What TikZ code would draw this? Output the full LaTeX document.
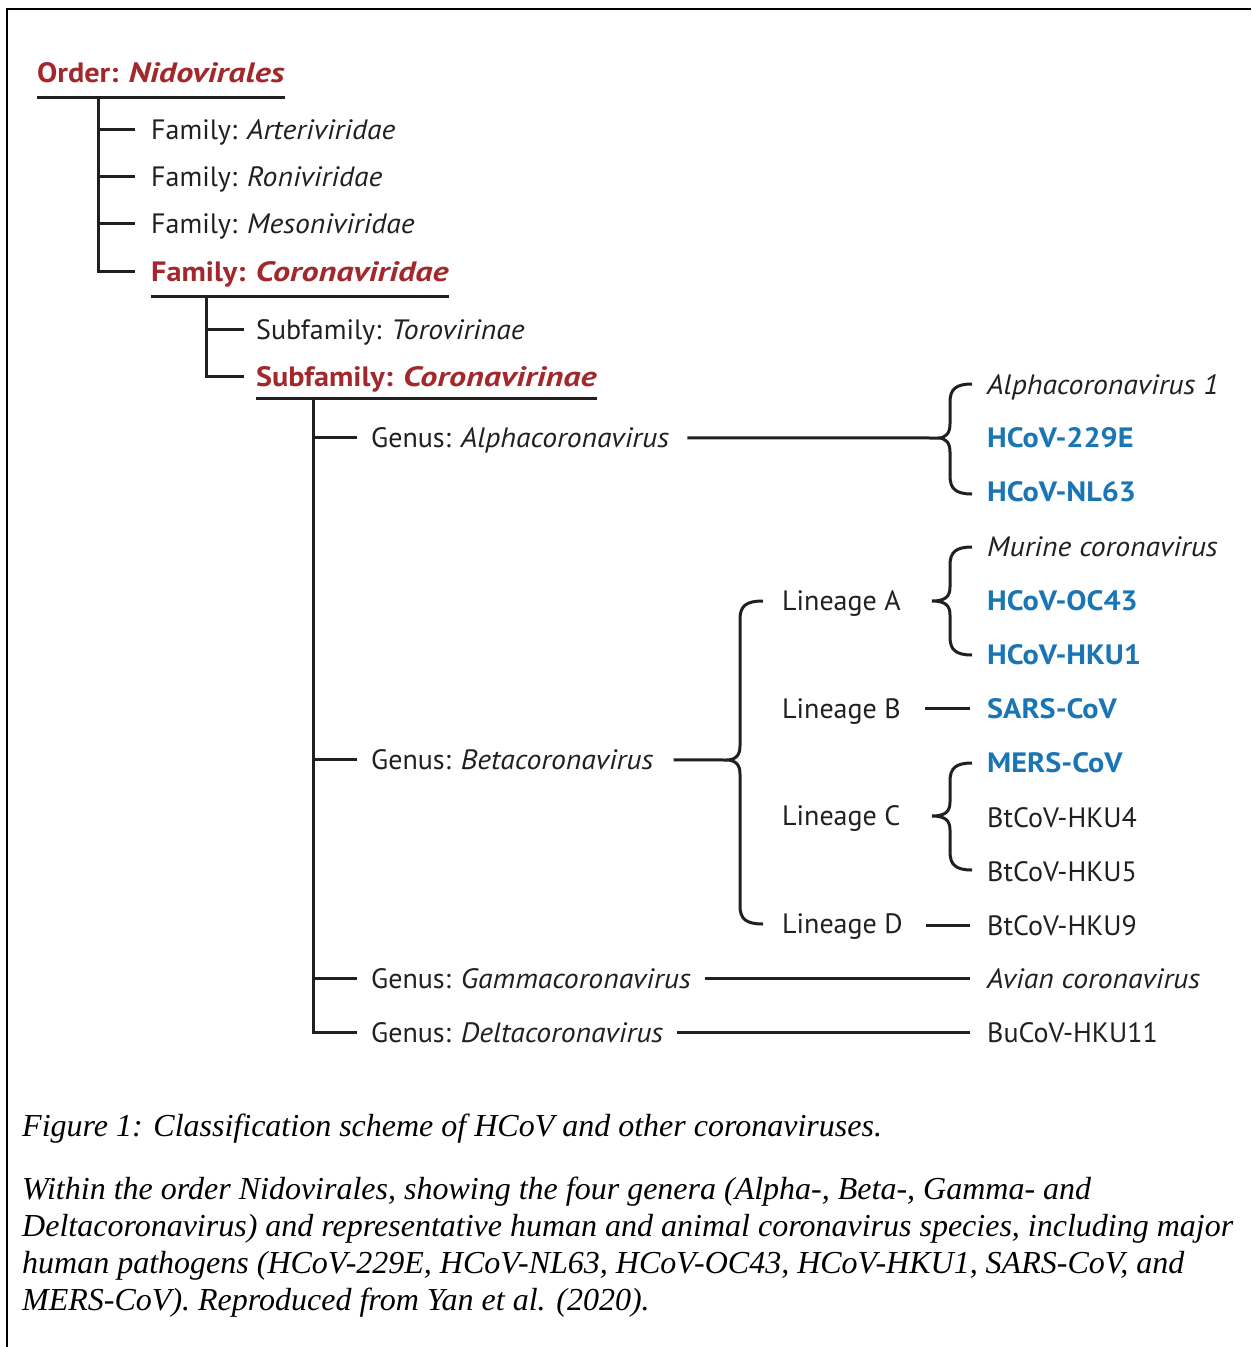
\documentclass[tikz,border=0pt]{standalone}
\usepackage{fontspec}
\setmainfont{PT Sans}[
  ItalicFeatures={FakeStretch=1.06},
  BoldFeatures={FakeStretch=1.08},
  BoldItalicFeatures={FakeStretch=1.22}]
\newfontfamily\capfont{Liberation Serif}
\definecolor{nred}{HTML}{A3282B}
\definecolor{nblue}{HTML}{1A75B5}
\definecolor{ink}{HTML}{231F20}
\newcommand{\curlybr}[6]{% x, ytop, ybot, ymid, tipx, endx
  \draw[tree] (#6,#2) .. controls ({#1+6},#2) and (#1,{#2+5}) .. (#1,{#2+18})
    -- (#1,{#4-14}) .. controls (#1,{#4-5}) and ({#1-4},#4) .. (#5,#4)
    .. controls ({#1-4},#4) and (#1,{#4+5}) .. (#1,{#4+14})
    -- (#1,{#3-18}) .. controls (#1,{#3-5}) and ({#1+6},#3) .. (#6,#3);}
\begin{document}
\begin{tikzpicture}[x=1pt,y=-1pt,
  lbl/.style={anchor=south west, inner sep=0pt, text height=20pt, text depth=0pt,
    font=\fontsize{28}{34}\selectfont, text=ink},
  redlbl/.style={lbl, font=\fontsize{28}{34}\selectfont\bfseries, text=nred},
  bluelbl/.style={lbl, font=\fontsize{28}{34}\selectfont\bfseries, text=nblue},
  tree/.style={line width=3pt, draw=ink, line cap=butt},
  capt/.style={anchor=base west, inner sep=0pt, font=\capfont\itshape\fontsize{32}{37}\selectfont, text=black}]
\useasboundingbox (0,0) rectangle (1251,1347);
\fill[white] (0,0) rectangle (1251,1347);
% frame (top and left edges)
\draw[line width=2pt, black] (1251,9) -- (7,9) -- (7,1347);

% order and families
\node[redlbl] (ord) at (37,83) {Order: \textit{Nidovirales}};
\node[lbl] (fam1) at (151,140) {Family: \textit{Arteriviridae}};
\node[lbl] (fam2) at (151,187) {Family: \textit{Roniviridae}};
\node[lbl] (fam3) at (151,234) {Family: \textit{Mesoniviridae}};
\node[redlbl] (fam4) at (151,282) {Family: \textit{Coronaviridae}};
\draw[tree] ([yshift=-14pt]ord.south west) -- ([yshift=-14pt]ord.south east);
\coordinate (ordTop) at (98,97);
\draw[tree] (ordTop) |- ([xshift=-16pt]fam4.west);
\foreach \f in {fam1,fam2,fam3}
  \draw[tree] (ordTop |- \f.west) -- ([xshift=-16pt]\f.west);

% subfamilies
\node[lbl] (sub1) at (256,340) {Subfamily: \textit{Torovirinae}};
\node[redlbl] (sub2) at (256,387) {Subfamily: \textit{Coronavirinae}};
\draw[tree] ([yshift=-14pt]fam4.south west) -- ([yshift=-14pt]fam4.south east);
\coordinate (famTop) at (206,296);
\draw[tree] (famTop) |- ([xshift=-12pt]sub2.west);
\draw[tree] (famTop |- sub1.west) -- ([xshift=-12pt]sub1.west);

% genera
\node[lbl] (gA) at (371,448) {Genus: \textit{Alphacoronavirus}};
\node[lbl] (gB) at (371,770) {Genus: \textit{Betacoronavirus}};
\node[lbl] (gG) at (371,989) {Genus: \textit{Gammacoronavirus}};
\node[lbl] (gD) at (371,1043) {Genus: \textit{Deltacoronavirus}};
\draw[tree] ([yshift=-11pt]sub2.south west) -- ([yshift=-11pt]sub2.south east);
\coordinate (subTop) at (313,398);
\draw[tree] (subTop) |- ([xshift=-14pt]gD.west);
\foreach \g in {gA,gB,gG}
  \draw[tree] (subTop |- \g.west) -- ([xshift=-14pt]\g.west);

% species of alpha
\node[lbl] (a1) at (987,395) {\textit{Alphacoronavirus 1}};
\node[bluelbl] (a2) at (987,448) {HCoV-229E};
\node[bluelbl] (a3) at (987,502) {HCoV-NL63};
\curlybr{950}{384}{494}{438}{938}{972}
\coordinate (aTip) at (938,438);
\draw[tree] ([xshift=18pt]gA.east) -- (aTip);

% beta lineages
\node[lbl] (lA) at (782,611) {Lineage A};
\node[lbl] (lB) at (782,719) {Lineage B};
\node[lbl] (lC) at (782,826) {Lineage C};
\node[lbl] (lD) at (782,934) {Lineage D};
\curlybr{740}{601}{924}{760}{726}{763}
\coordinate (bTip) at (726,760);
\draw[tree] ([xshift=20pt]gB.east) -- (bTip);

% lineage A species
\node[lbl] (m1) at (987,557) {\textit{Murine coronavirus}};
\node[bluelbl] (m2) at (987,611) {HCoV-OC43};
\node[bluelbl] (m3) at (987,665) {HCoV-HKU1};
\curlybr{950}{547}{655}{601}{932}{972}
% lineage B
\node[bluelbl] (sars) at (987,719) {SARS-CoV};
\draw[tree] ([xshift=-17pt]sars.west) -- ([xshift=-62pt]sars.west);
% lineage C species
\node[bluelbl] (c1) at (987,773) {MERS-CoV};
\node[lbl] (c2) at (987,828) {BtCoV-HKU4};
\node[lbl] (c3) at (987,882) {BtCoV-HKU5};
\curlybr{950}{763}{870}{816}{932}{972}
% lineage D
\node[lbl] (d1) at (987,936) {BtCoV-HKU9};
\draw[tree] ([xshift=-17pt]d1.west) -- ([xshift=-61pt]d1.west);
% gamma, delta
\node[lbl] (gam) at (987,989) {\textit{Avian coronavirus}};
\node[lbl] (del) at (987,1043) {BuCoV-HKU11};
\draw[tree] ([xshift=14pt]gG.east) -- ([xshift=-17pt]gam.west);
\draw[tree] ([xshift=14pt]gD.east) -- ([xshift=-17pt]del.west);

% caption
\node[capt] (cap0) at (22,1136) {Figure 1: Classification scheme of HCoV and other coronaviruses.};
\node[capt] (cap1) at (22,1199) {Within the order Nidovirales, showing the four genera (Alpha-, Beta-, Gamma- and};
\node[capt] (cap2) at (22,1236) {Deltacoronavirus) and representative human and animal coronavirus species, including major};
\node[capt] (cap3) at (22,1273) {human pathogens (HCoV-229E, HCoV-NL63, HCoV-OC43, HCoV-HKU1, SARS-CoV, and};
\node[capt] (cap4) at (22,1310) {MERS-CoV). Reproduced from Yan et al. (2020).};
\end{tikzpicture}
\end{document}
